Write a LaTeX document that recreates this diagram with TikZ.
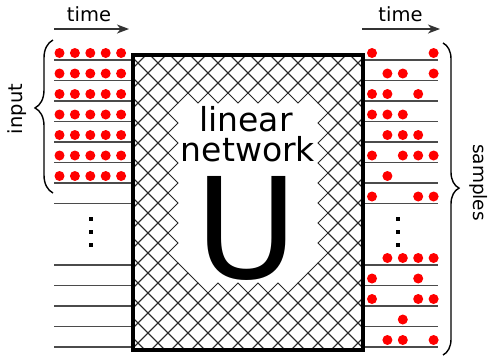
\documentclass[tikz,border=0pt]{standalone}
\usepackage{fontspec}
\setmainfont{DejaVu Sans}
\usetikzlibrary{arrows.meta,decorations.pathreplacing}
\definecolor{dotred}{RGB}{255,0,0}
\definecolor{linegray}{RGB}{75,75,75}
\begin{document}
\begin{tikzpicture}[x=1pt,y=-1pt,
  wire/.style={draw=linegray,line width=1.3pt},
  hatchline/.style={draw=black!85,line width=0.85pt},
  reddot/.style={fill=dotred},
  ell/.style={fill=black},
  boxborder/.style={draw=black,line width=3.5pt},
  timearrow/.style={draw=black!80,line width=1.3pt,-{Stealth[length=12pt,width=9pt,inset=3.5pt]}},
  bracestyle/.style={draw=black,line width=1.4pt,decorate},
  smalltext/.style={font=\fontsize{19.5}{20}\selectfont,inner sep=0pt},
  bigtext/.style={font=\fontsize{33}{33}\selectfont,inner sep=0pt,anchor=base},
]
\useasboundingbox (0,0) rectangle (489,362);
\fill[white] (0,0) rectangle (489,362);

% horizontal lines
\foreach \i in {0,...,7,10,11,12,13,14}{
  \coordinate (ls\i) at (54,{60+20.5*\i});
  \coordinate (le\i) at (133,{60+20.5*\i});
  \coordinate (rs\i) at (363,{60+20.5*\i});
  \coordinate (re\i) at (438,{60+20.5*\i});
  \draw[wire] (ls\i) -- (le\i);
  \draw[wire] (rs\i) -- (re\i);
}

% hatch
\begin{scope}
\clip (133,55) rectangle (363,350);
\foreach \a in {11,...,36}{
  \foreach \b in {4,...,36}{
    \pgfmathtruncatemacro{\pty}{mod(\a+\b,2)}
    \ifnum\pty=1
      \pgfmathtruncatemacro{\wh}{(\a>15)*(\a<31)*(\b>9)*(\b<29)*(\a-\b+10>0)*(\a+\b<56)}
      \ifnum\wh=0
        \draw[hatchline] ({8+10*\a},{3+10*\b}) -- ++(10,-10) -- ++(10,10) -- ++(-10,10) -- cycle;
      \fi
    \fi
  }
}
\end{scope}

% box
\draw[boxborder] (133,55) rectangle (363,350);

% left dots
\foreach \i in {0,...,6}{
  \foreach \j in {0,...,4}{
    \fill[reddot] ({59.5+15.4*\j},{53+20.5*\i}) circle (5pt);
  }
}
% right dots
\foreach \i/\js in {0/{0,4},1/{1,2,4},2/{0,1,3},3/{0,1,2},4/{1,2,3},5/{0,2,3,4},6/{1},7/{0,3,4},10/{1,2,3,4},11/{0,3},12/{0,3,4},13/{2},14/{1,2,4}}{
  \foreach \j in \js {
    \fill[reddot] ({372+15.4*\j},{53+20.5*\i}) circle (5pt);
  }
}

% ellipsis dots
\foreach \y in {219,232,245}{
  \fill[ell] (88.7,{\y-2}) rectangle ++(4,4);
  \fill[ell] (396.3,{\y-2}) rectangle ++(4,4);
}

% time arrows
\coordinate (ta0) at (54,29);
\coordinate (ta1) at (129,29);
\coordinate (tb0) at (362,29);
\coordinate (tb1) at (440,29);
\draw[timearrow] (ta0) -- (ta1);
\draw[timearrow] (tb0) -- (tb1);
\node[smalltext,anchor=base] (tl) at (89,21.5) {time};
\node[smalltext,anchor=base] (tr) at (400.5,21.5) {time};

% braces
\coordinate (lb0) at (53,193);
\coordinate (lb1) at (53,40);
\coordinate (rb0) at (443,43);
\coordinate (rb1) at (443,355);
\draw[bracestyle,decoration={brace,amplitude=18pt,aspect=0.556}] (lb0) -- (lb1);
\draw[bracestyle,decoration={brace,amplitude=16pt,aspect=0.465}] (rb0) -- (rb1);
\node[smalltext,rotate=90] (inp) at (17.5,109) {input};
\node[font=\fontsize{18.5}{19}\selectfont,inner sep=0pt,rotate=-90] (smp) at (478.3,182.5) {samples};

% title
\node[bigtext] (lin) at (246,131.5) {linear};
\node[bigtext] (net) at (248,161.5) {network};
\node[font=\fontsize{140}{140}\selectfont,inner sep=0pt,anchor=base] (U) at (246.5,278) {U};
\end{tikzpicture}
\end{document}
